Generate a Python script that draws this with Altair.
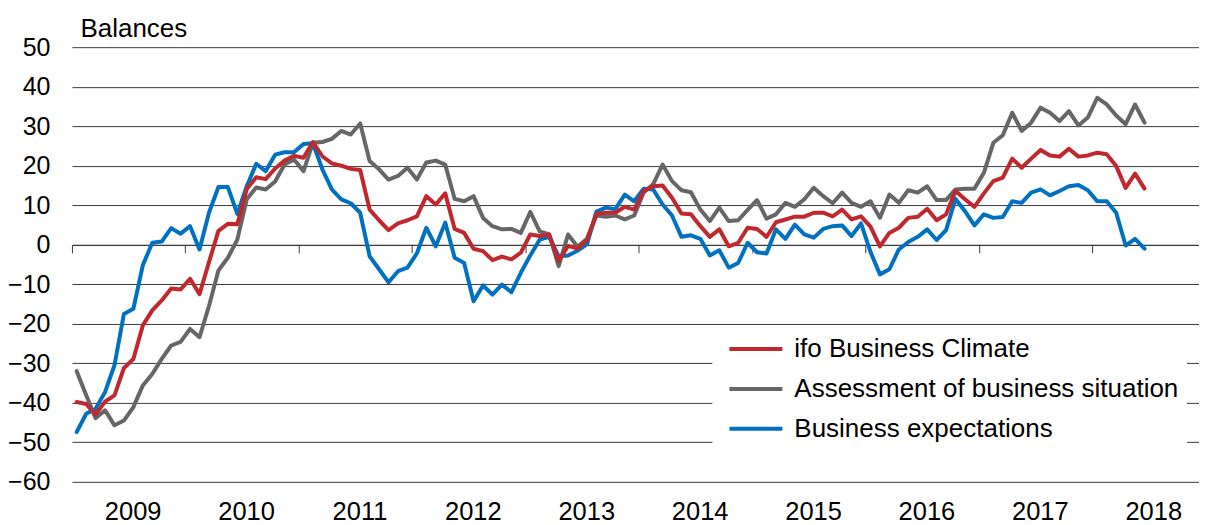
import altair as alt
import pandas as pd

# ---- data (monthly, Jan 2009 - Jun 2018), balances ----
years = list(range(2009, 2019))
series_names = ["ifo Business Climate", "Assessment of business situation", "Business expectations"]
series_colors = ["#c0282e", "#666666", "#0070c0"]

climate = [
    -39.8, -40.3, -43.0, -39.7, -38.1, -31.2, -28.9, -20.4, -16.6, -14.1, -11.1, -11.3,
    -8.6, -12.5, -4.4, 3.5, 5.3, 5.2, 14.1, 17.1, 16.6, 19.3, 21.3, 22.5,
    22.0, 26.0, 22.4, 20.6, 20.0, 19.2, 18.9, 8.9, 6.2, 3.7, 5.4, 6.2,
    7.2, 12.3, 10.2, 13.0, 4.0, 3.0, -1.0, -1.6, -3.9, -3.0, -3.7, -2.0,
    2.6, 2.2, 2.6, -4.1, -0.3, -1.0, 1.2, 7.8, 8.1, 8.1, 9.6, 8.9,
    13.6, 14.8, 15.0, 11.9, 7.9, 7.7, 4.7, 2.0, 3.9, -0.4, 0.5, 4.3,
    4.0, 2.0, 5.7, 6.4, 7.1, 7.1, 8.1, 8.1, 7.2, 8.9, 6.4, 7.2,
    4.6, -0.4, 3.0, 4.3, 6.8, 7.1, 9.1, 6.2, 7.7, 13.6, 11.5, 9.6,
    13.0, 16.1, 17.0, 21.8, 19.5, 21.8, 24.0, 22.6, 22.3, 24.3, 22.3, 22.6,
    23.3, 22.9, 19.9, 14.4, 18.0, 14.2,
]
situation = [
    -32.0, -38.0, -43.9, -41.9, -45.7, -44.5, -41.1, -35.6, -32.7, -28.9, -25.5, -24.6,
    -21.3, -23.4, -15.5, -6.5, -3.3, 1.3, 11.5, 14.5, 14.0, 16.0, 20.3, 21.6,
    18.6, 25.8, 26.0, 26.8, 28.8, 27.9, 30.7, 21.2, 19.1, 16.5, 17.4, 19.5,
    16.5, 20.8, 21.3, 20.3, 11.6, 11.0, 12.3, 6.8, 4.7, 3.9, 4.0, 3.0,
    8.3, 3.4, 2.6, -5.4, 2.6, -0.5, 1.5, 7.4, 7.1, 7.4, 6.4, 7.4,
    13.2, 15.3, 20.3, 16.1, 13.8, 13.3, 8.9, 6.0, 9.4, 6.0, 6.2, 8.8,
    11.3, 6.6, 7.7, 10.6, 9.6, 11.5, 14.4, 12.3, 10.5, 13.2, 10.6, 9.6,
    11.0, 6.8, 12.7, 10.6, 13.8, 13.2, 14.8, 11.3, 11.3, 14.0, 14.2, 14.2,
    18.2, 25.8, 27.7, 33.4, 28.8, 30.9, 34.7, 33.4, 31.3, 33.8, 30.2, 32.2,
    37.2, 35.5, 32.7, 30.5, 35.5, 30.9,
]
expectations = [
    -47.4, -42.8, -41.5, -37.3, -30.5, -17.5, -16.2, -5.2, 0.5, 0.8, 4.2, 2.8,
    4.7, -1.2, 8.1, 14.6, 14.6, 7.8, 14.8, 20.5, 18.6, 22.8, 23.4, 23.4,
    25.5, 25.7, 19.1, 14.0, 11.5, 10.5, 8.1, -2.9, -6.2, -9.5, -6.7, -5.8,
    -2.2, 4.3, -0.4, 5.6, -3.3, -4.6, -14.3, -10.3, -12.6, -10.1, -12.0, -7.1,
    -2.7, 1.3, 2.0, -2.9, -2.7, -1.5, 0.1, 8.4, 9.4, 9.0, 12.7, 11.0,
    14.2, 14.0, 10.2, 7.4, 2.0, 2.4, 1.5, -2.7, -1.4, -5.8, -4.6, 0.5,
    -1.9, -2.2, 3.9, 1.5, 5.1, 2.6, 1.8, 4.0, 4.7, 4.9, 2.2, 5.4,
    -1.8, -7.5, -6.2, -1.2, 0.7, 2.0, 3.9, 1.2, 3.7, 11.6, 8.5, 4.9,
    7.7, 6.8, 7.0, 11.0, 10.6, 13.2, 14.0, 12.5, 13.6, 14.8, 15.1, 13.8,
    11.0, 11.0, 8.1, -0.2, 1.5, -1.0,
]
y_ticks = list(range(-60, 51, 10))

# ---- table ----
n = len(climate)
months = pd.date_range("2009-01-01", periods=n, freq="MS")
rows = []
for name, vals in zip(series_names, [climate, situation, expectations]):
    for i, v in enumerate(vals):
        rows.append({"series": name, "t": i + 0.5,
                     "month": months[i].strftime("%Y-%m"), "value": v})
df = pd.DataFrame(rows)

FONT = "Liberation Sans"
FS = 26
W, H = 1128, 435
MONTH_PX = 9.458
x_max = W / MONTH_PX
x_scale = alt.Scale(domain=[0, x_max], nice=False, zero=False)
y_scale = alt.Scale(domain=[-60, 50], nice=False, zero=False)
zero_offset = -H * (0 - (-60)) / 110.0

y_axis = alt.Axis(
    values=y_ticks, ticks=False, domain=False, grid=True,
    gridColor="#3a3a3a", gridWidth=1,
    labelFont=FONT, labelFontSize=25, labelColor="black", labelPadding=22,
    title="Balances", titleFont=FONT, titleFontSize=FS, titleFontWeight="normal",
    titleColor="black", titleAngle=0, titleAlign="left", titleBaseline="alphabetic",
    titleX=8, titleY=-11,
)

x_zero_axis = alt.Axis(
    orient="bottom", offset=zero_offset, values=[12 * k for k in range(len(years) + 1)],
    labels=False, ticks=True, tickSize=8, tickColor="#3a3a3a", tickWidth=1,
    domain=True, domainColor="#3a3a3a", domainWidth=1, grid=False, title=None,
)
x_label_axis = alt.Axis(
    orient="bottom", values=[12 * k + 6 for k in range(len(years))],
    labelExpr=f"'' + ({years[0]} + (datum.value - 6) / 12)",
    ticks=False, tickSize=0, domain=False, grid=False,
    labelFont=FONT, labelFontSize=25.5, labelColor="black", labelPadding=18,
    labelOffset=4, title=None,
)

color = alt.Color(
    "series:N",
    scale=alt.Scale(domain=series_names, range=series_colors),
    legend=alt.Legend(
        orient="none", legendX=641, legendY=278.5, title=None,
        fillColor="white", padding=8,
        symbolType="M-2,0H2", symbolSize=702.25, symbolStrokeWidth=4,
        symbolOffset=20, labelOffset=23, rowPadding=11,
        labelFont=FONT, labelFontSize=FS, labelColor="black", labelLimit=0,
    ),
)


def line_layer(name, x_axis):
    return (
        alt.Chart(df)
        .transform_filter(alt.datum.series == name)
        .mark_line(strokeWidth=4, strokeJoin="round", strokeCap="round")
        .encode(
            x=alt.X("t:Q", scale=x_scale, axis=x_axis),
            y=alt.Y("value:Q", scale=y_scale, axis=y_axis),
            color=color,
        )
    )


chart = (
    alt.layer(
        line_layer(series_names[1], x_zero_axis),
        line_layer(series_names[2], None),
        line_layer(series_names[0], x_label_axis),
    )
    .resolve_axis(x="independent")
    .properties(
        width=W, height=H,
        autosize=alt.AutoSizeParams(type="none"),
        padding={"left": 64, "top": 39, "right": 0, "bottom": 43},
        background="white",
    )
    .configure_view(strokeWidth=0)
)

chart.save("out.html", embed_options={"renderer": "svg", "actions": False})
